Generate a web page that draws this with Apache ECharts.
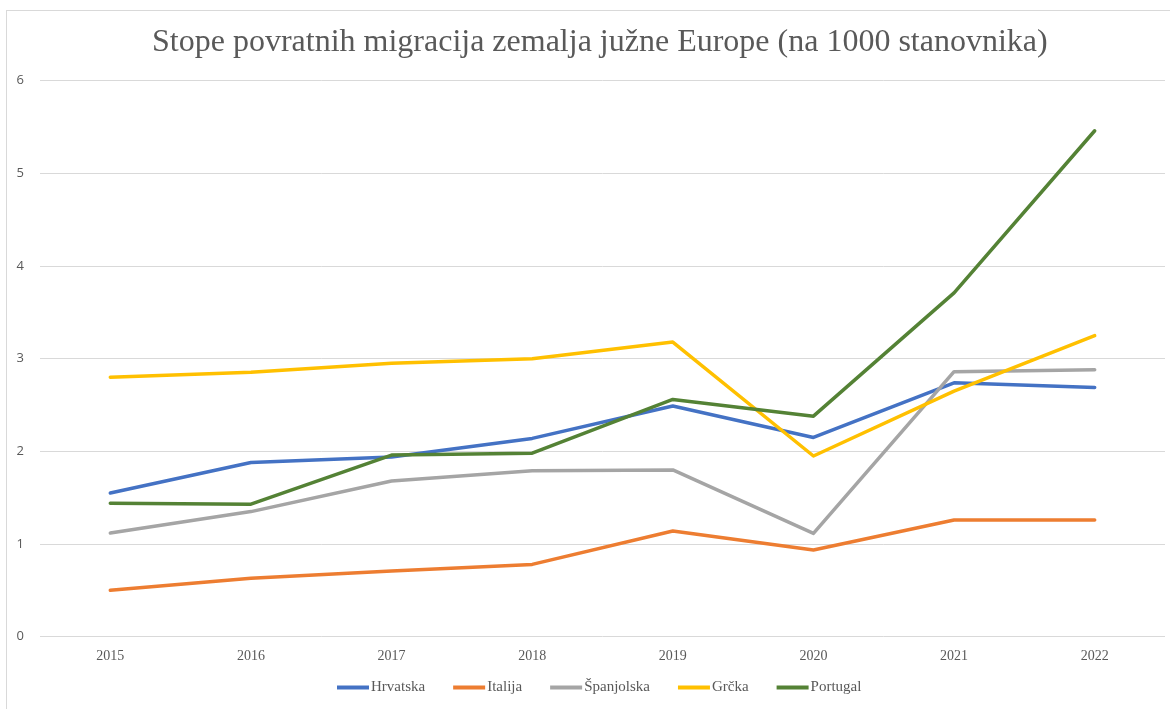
<!DOCTYPE html>
<html>
<head>
<meta charset="utf-8">
<script src="https://cdn.jsdelivr.net/npm/echarts@6/dist/echarts.min.js"></script>
<style>
    body { margin: 0; background: #fff; }
    #chart { width: 1170px; height: 709px; }
    #frame {
        position: absolute; left: 6px; top: 10px; width: 1164px; height: 699px;
        border-left: 1px solid #d9d9d9; border-top: 1px solid #d9d9d9;
        pointer-events: none;
    }
</style>
</head>
<body>
<div id="chart"></div>
<div id="frame"></div>
<script>
// Podaci
var years = ['2015', '2016', '2017', '2018', '2019', '2020', '2021', '2022'];
var hrvatska = [1.55, 1.88, 1.94, 2.14, 2.49, 2.15, 2.74, 2.69];
var italija = [0.50, 0.63, 0.71, 0.78, 1.14, 0.935, 1.26, 1.26];
var spanjolska = [1.12, 1.35, 1.68, 1.79, 1.80, 1.115, 2.86, 2.88];
var grcka = [2.80, 2.855, 2.95, 3.00, 3.18, 1.95, 2.65, 3.25];
var portugal = [1.44, 1.43, 1.96, 1.98, 2.56, 2.38, 3.71, 5.46];

var serif = '"Liberation Serif", "DejaVu Serif", serif';
var sans = '"Open Sans", "Noto Sans", sans-serif';

function linija(name, data, color) {
    return {
        name: name,
        type: 'line',
        data: data,
        symbol: 'none',
        lineStyle: { width: 3.5, color: color, cap: 'round', join: 'round' },
        itemStyle: { color: color }
    };
}

var chart = echarts.init(document.getElementById('chart'));

var option = {
    animation: false,
    title: {
        text: 'Stope povratnih migracija zemalja južne Europe (na 1000 stanovnika)',
        left: 147,
        top: 22,
        textStyle: { fontFamily: serif, fontSize: 32, fontWeight: 'normal', color: '#595959' }
    },
    grid: { left: 40, right: 5, top: 80.7, bottom: 72.3 },
    xAxis: {
        type: 'category',
        data: years,
        boundaryGap: true,
        axisLine: { show: false },
        axisTick: { show: false },
        axisLabel: { fontFamily: serif, fontSize: 14, color: '#595959', margin: 13 }
    },
    yAxis: {
        type: 'value',
        min: 0,
        max: 6,
        interval: 1,
        axisLine: { show: false },
        axisTick: { show: false },
        axisLabel: { fontFamily: sans, fontSize: 13, color: '#595959', margin: 16 },
        splitLine: { lineStyle: { color: '#d9d9d9', width: 1 } }
    },
    legend: {
        bottom: 9,
        left: 332,
        icon: 'rect',
        itemWidth: 32,
        itemHeight: 4,
        itemGap: 28,
        textStyle: { fontFamily: serif, fontSize: 15, color: '#595959', padding: [0, 0, 0, -3] },
        data: ['Hrvatska', 'Italija', 'Španjolska', 'Grčka', 'Portugal']
    },
    series: [
        linija('Hrvatska', hrvatska, '#4472C4'),
        linija('Italija', italija, '#ED7D31'),
        linija('Španjolska', spanjolska, '#A5A5A5'),
        linija('Grčka', grcka, '#FFC000'),
        linija('Portugal', portugal, '#548235')
    ]
};

chart.setOption(option);
</script>
</body>
</html>
